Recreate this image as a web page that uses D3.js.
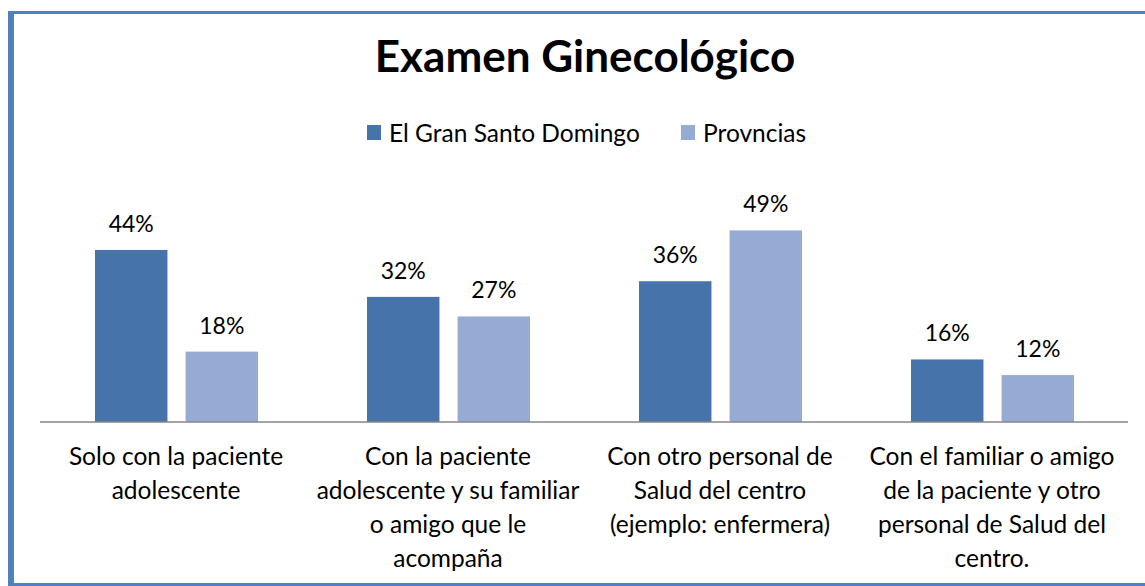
<!DOCTYPE html>
<html>
<head>
<meta charset="utf-8">
<script src="https://cdn.jsdelivr.net/npm/d3@7"></script>
<style>
  html, body { margin: 0; padding: 0; background: #fff; }
  svg { display: block; font-family: Lato, "Open Sans", sans-serif; }
</style>
</head>
<body>
<svg id="chart" width="1145" height="586"></svg>
<script>
// Chart data
const categories = [
  ["Solo con la paciente", "adolescente"],
  ["Con la paciente", "adolescente y su familiar", "o amigo que le", "acompaña"],
  ["Con otro personal de", "Salud del centro", "(ejemplo: enfermera)"],
  ["Con el familiar o amigo", "de la paciente y otro", "personal de Salud del", "centro."]
];
const seriesNames = ["El Gran Santo Domingo", "Provncias"];
const santoDomingo = [44, 32, 36, 16];
const provincias = [18, 27, 49, 12];

const colors = ["#4673a9", "#95abd3"];

const svg = d3.select("#chart");
const W = 1145, H = 586;

// frame (right edge is cut off in the original)
svg.append("line").attr("x1", 8).attr("x2", W).attr("y1", 12.5).attr("y2", 12.5)
  .attr("stroke", "#4f81bd").attr("stroke-width", 3);
svg.append("line").attr("x1", 11).attr("x2", 11).attr("y1", 11).attr("y2", H)
  .attr("stroke", "#4f81bd").attr("stroke-width", 6);
svg.append("line").attr("x1", 8).attr("x2", W).attr("y1", 584.5).attr("y2", 584.5)
  .attr("stroke", "#4f81bd").attr("stroke-width", 3);

// title
svg.append("text")
  .attr("x", 585).attr("y", 72)
  .attr("text-anchor", "middle")
  .style("font-weight", "bold").style("font-size", "44px")
  .text("Examen Ginecológico");

// legend
const legendX = [367, 681];
seriesNames.forEach((name, i) => {
  svg.append("rect").attr("x", legendX[i]).attr("y", 125)
    .attr("width", 14).attr("height", 15).attr("fill", colors[i]);
  svg.append("text").attr("x", legendX[i] + 22).attr("y", 142)
    .style("font-size", "24.5px").text(name);
});

// scales
const x0 = d3.scaleBand().domain(d3.range(categories.length)).range([40, 1128]);
const x1 = d3.scaleBand().domain([0, 1]).range([55, 218]).paddingInner(0.2);
const y = d3.scaleLinear().domain([0, 50]).range([422, 226.5]);

const table = categories.map((c, i) => ({ i, values: [santoDomingo[i], provincias[i]] }));

const groups = svg.selectAll("g.cat").data(table).enter()
  .append("g").attr("class", "cat")
  .attr("transform", d => `translate(${x0(d.i)},0)`);

groups.selectAll("rect").data(d => d.values.map((v, s) => ({ v, s }))).enter()
  .append("rect")
  .attr("x", d => x1(d.s))
  .attr("width", x1.bandwidth())
  .attr("y", d => y(d.v))
  .attr("height", d => y(0) - y(d.v))
  .attr("fill", d => colors[d.s]);

groups.selectAll("text.val").data(d => d.values.map((v, s) => ({ v, s }))).enter()
  .append("text").attr("class", "val")
  .attr("x", d => x1(d.s) + x1.bandwidth() / 2)
  .attr("y", d => y(d.v) - 18)
  .attr("text-anchor", "middle")
  .style("font-size", "23px")
  .text(d => d.v + "%");

// axis baseline
svg.append("line").attr("x1", 40).attr("x2", 1128).attr("y1", 422).attr("y2", 422)
  .attr("stroke", "#868686").attr("stroke-width", 1.5);

// category labels
groups.append("text")
  .attr("text-anchor", "middle")
  .style("font-size", "24.5px")
  .selectAll("tspan").data(d => categories[d.i]).enter()
  .append("tspan")
  .attr("x", x0.bandwidth() / 2)
  .attr("y", (d, k) => 465 + k * 34)
  .text(d => d);
</script>
</body>
</html>
